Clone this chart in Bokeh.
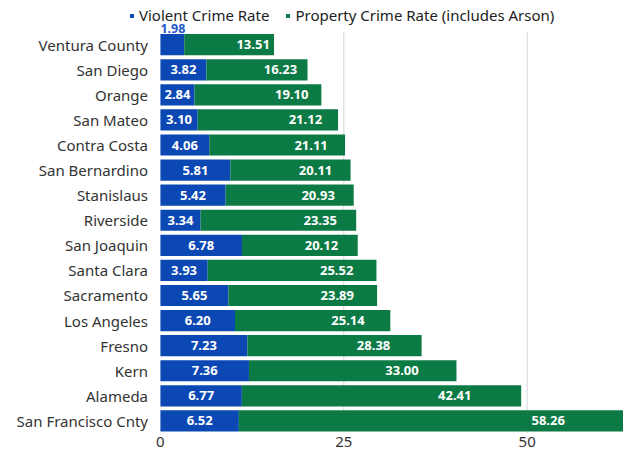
from bokeh.plotting import figure
from bokeh.models import ColumnDataSource, Range1d, FixedTicker, Legend, LegendItem
from bokeh.core.properties import value
from bokeh.embed import file_html
from bokeh.resources import INLINE

# ---------------- data ----------------
counties = ["Ventura County", "San Diego", "Orange", "San Mateo", "Contra Costa",
            "San Bernardino", "Stanislaus", "Riverside", "San Joaquin", "Santa Clara",
            "Sacramento", "Los Angeles", "Fresno", "Kern", "Alameda", "San Francisco Cnty"]
violent = [1.98, 3.82, 2.84, 3.10, 4.06, 5.81, 5.42, 3.34, 6.78, 3.93,
           5.65, 6.20, 7.23, 7.36, 6.77, 6.52]
property_crime = [13.51, 16.23, 19.10, 21.12, 21.11, 20.11, 20.93, 23.35, 20.12, 25.52,
                  23.89, 25.14, 28.38, 33.00, 42.41, 58.26]
x_ticks = [0, 25, 50]
series_names = ["Violent Crime Rate", "Property Crime Rate (includes Arson)"]

# ---------------- style / layout ----------------
BLUE = "#0b48b3"
GREEN = "#0c7a45"
FONT = "Noto Sans"
VIOLENT_DRAW_SCALE = 1.64   # the source graphic draws the violent segment wider than its value
LABEL_FRAC = 0.816          # position of the property label along the bar
BAR_H = 0.845
X_START, X_END = -21.8, 63.13
Y_START, Y_END = -0.503, 16.763
YLABEL_X = -1.69

n = len(counties)
ypos = [n - 1 - i for i in range(n)]
blue_end = [v * VIOLENT_DRAW_SCALE for v in violent]
total = [v + p for v, p in zip(violent, property_crime)]

src = ColumnDataSource(dict(
    y=ypos, county=counties,
    blue_end=blue_end, total=total,
    vlab=["%.2f" % v for v in violent],
    plab=["%.2f" % p for p in property_crime],
    blue_mid=[b / 2 for b in blue_end],
    green_x=[t * LABEL_FRAC for t in total],
))

p = figure(width=623, height=449, output_backend="svg", toolbar_location=None,
           x_range=Range1d(X_START, X_END), y_range=Range1d(Y_START, Y_END),
           min_border_left=0, min_border_right=0, min_border_top=0, min_border_bottom=0)
p.outline_line_color = None
p.background_fill_color = "white"
p.border_fill_color = "white"
p.yaxis.visible = False
p.xgrid.visible = False
p.ygrid.visible = False

# gridlines at tick values, spanning the bars
p.segment(x0=x_ticks[1:], x1=x_ticks[1:], y0=[-0.47] * 2, y1=[n - 0.48] * 2,
          line_color="#d6d6d6", line_width=1)

r_blue = p.hbar(y="y", left=0, right="blue_end", height=BAR_H, source=src,
                fill_color=BLUE, line_color=None)
r_green = p.hbar(y="y", left="blue_end", right="total", height=BAR_H, source=src,
                 fill_color=GREEN, line_color=None)

# value labels
inside = [i for i, b in enumerate(blue_end) if b >= 3.8]
outside = [i for i, b in enumerate(blue_end) if b < 3.8]
src_in = ColumnDataSource(dict(x=[src.data["blue_mid"][i] for i in inside],
                               y=[ypos[i] for i in inside],
                               t=[src.data["vlab"][i] for i in inside]))
p.text(x="x", y="y", text="t", source=src_in, text_color="white",
       text_font=value(FONT), text_font_style="bold", text_font_size="13px",
       text_align="center", text_baseline="middle")
src_out = ColumnDataSource(dict(x=[0 for i in outside],
                                y=[ypos[i] + BAR_H / 2 + 0.05 for i in outside],
                                t=[src.data["vlab"][i] for i in outside]))
p.text(x="x", y="y", text="t", source=src_out, text_color="#2458c6",
       text_font=value(FONT), text_font_style="bold", text_font_size="12.5px",
       text_align="left", text_baseline="bottom")
p.text(x="green_x", y="y", text="plab", source=src, text_color="white",
       text_font=value(FONT), text_font_style="bold", text_font_size="13px",
       text_align="center", text_baseline="middle")

# category labels
p.text(x=YLABEL_X, y="y", text="county", source=src, text_color="#333333",
       text_font=value(FONT), text_font_size="15px",
       text_align="right", text_baseline="middle")

# x axis
p.xaxis.ticker = FixedTicker(ticks=x_ticks)
p.xaxis.axis_line_color = None
p.xaxis.major_tick_line_color = None
p.xaxis.minor_tick_line_color = None
p.xaxis.major_tick_out = 0
p.xaxis.major_tick_in = 0
p.xaxis.major_label_standoff = 3
p.xaxis.major_label_text_font = FONT
p.xaxis.major_label_text_font_size = "15px"
p.xaxis.major_label_text_color = "#333333"

legend = Legend(items=[LegendItem(label=series_names[0], renderers=[r_blue]),
                       LegendItem(label=series_names[1], renderers=[r_green])],
                orientation="horizontal", location=(129, 408),
                glyph_width=5, glyph_height=5, label_standoff=5, spacing=16,
                padding=0, margin=0, border_line_color=None,
                background_fill_alpha=0, label_height=18,
                label_text_font=FONT, label_text_font_size="15px",
                label_text_color="#222222")
p.add_layout(legend, "center")

open("out.html", "w").write(file_html(p, INLINE))
